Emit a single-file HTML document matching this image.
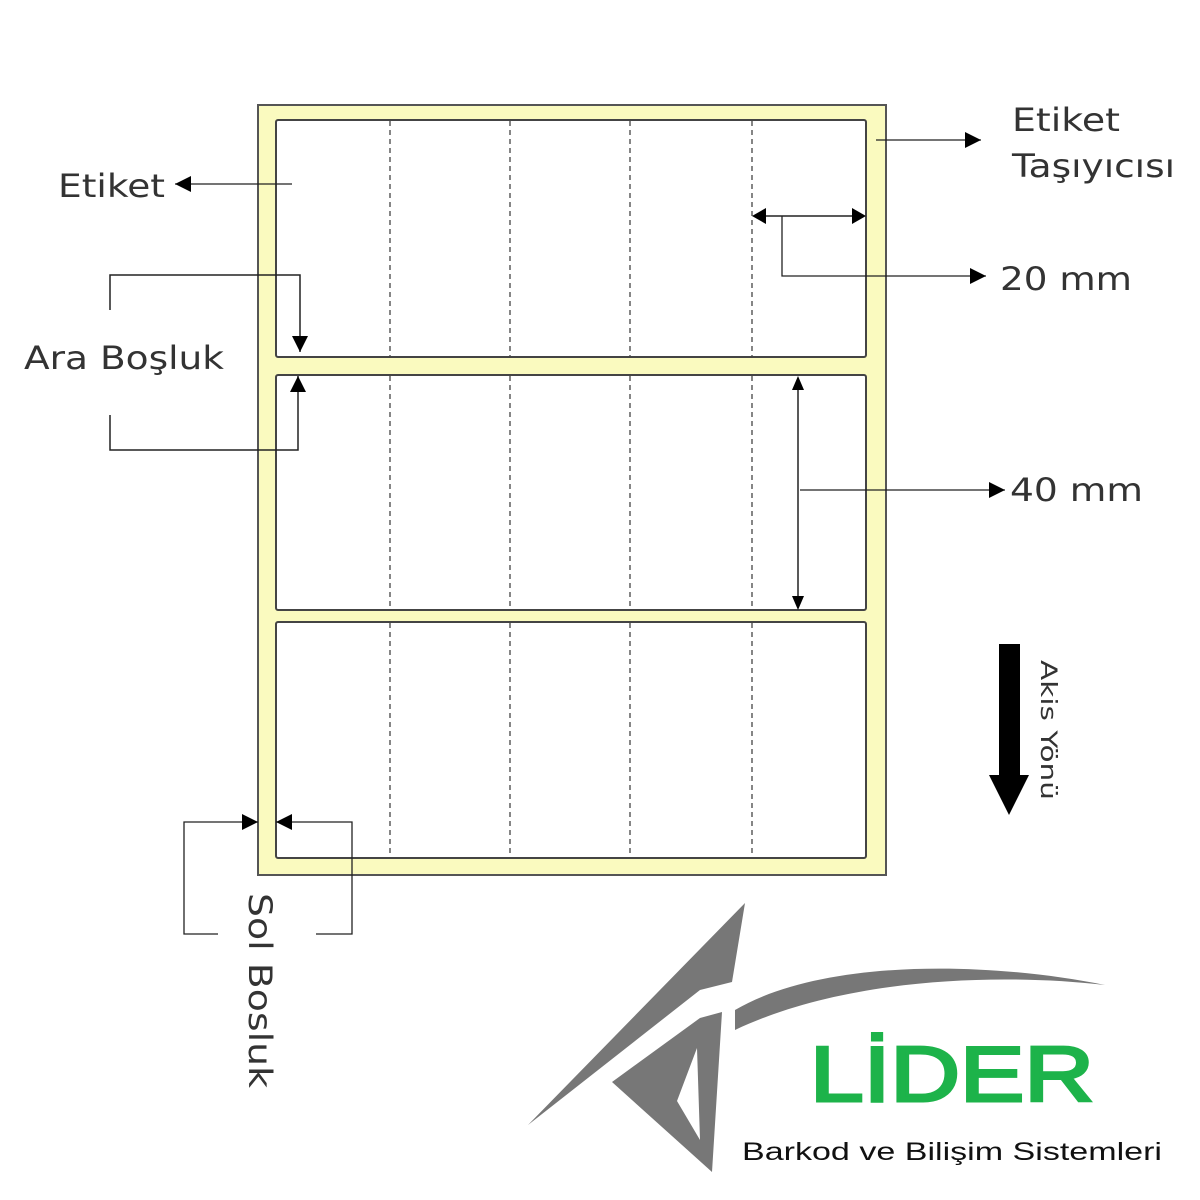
<!DOCTYPE html>
<html><head><meta charset="utf-8"><style>
html,body{margin:0;padding:0;background:#fff;}
svg{display:block;}
text{font-family:"DejaVu Sans","Liberation Sans",sans-serif;fill:#333;}
</style></head><body>
<svg width="1200" height="1200" viewBox="0 0 1200 1200" xmlns="http://www.w3.org/2000/svg">
<defs>
<marker id="ah" viewBox="0 0 10 10" refX="10" refY="5" markerWidth="22" markerHeight="16" markerUnits="userSpaceOnUse" orient="auto"><path d="M0,0L10,5L0,10z" fill="#000"/></marker>
</defs>
<rect x="258" y="105" width="628" height="770" fill="#fafabf" stroke="#555" stroke-width="2"/>
<g fill="#fff" stroke="#444" stroke-width="2">
<rect x="276" y="120" width="590" height="237" rx="2"/>
<rect x="276" y="375" width="590" height="235" rx="2"/>
<rect x="276" y="622" width="590" height="236" rx="2"/>
</g>
<g stroke="#444" stroke-width="1.3" stroke-dasharray="5,4">
<line x1="390" y1="121" x2="390" y2="356"/><line x1="510" y1="121" x2="510" y2="356"/><line x1="630" y1="121" x2="630" y2="356"/><line x1="752" y1="121" x2="752" y2="356"/>
<line x1="390" y1="376" x2="390" y2="609"/><line x1="510" y1="376" x2="510" y2="609"/><line x1="630" y1="376" x2="630" y2="609"/><line x1="752" y1="376" x2="752" y2="609"/>
<line x1="390" y1="623" x2="390" y2="857"/><line x1="510" y1="623" x2="510" y2="857"/><line x1="630" y1="623" x2="630" y2="857"/><line x1="752" y1="623" x2="752" y2="857"/>
</g>
<g stroke="#222" stroke-width="1.5" fill="none">
<line x1="292" y1="184" x2="175" y2="184" marker-end="url(#ah)" stroke-width="1.3"/>
<line x1="876" y1="140" x2="981" y2="140" marker-end="url(#ah)" stroke-width="1.3"/>
<line x1="765" y1="216" x2="853" y2="216"/>
<path d="M752,216 l14,-8 v16z M866,216 l-14,-8 v16z" fill="#000" stroke="none"/>
<polyline points="782,216 782,276 986,276" marker-end="url(#ah)" stroke-width="1.3"/>
<polyline points="110,310 110,275 300,275 300,352" marker-end="url(#ah)"/>
<polyline points="110,415 110,450 298,450 298,376" marker-end="url(#ah)"/>
<line x1="798" y1="390" x2="798" y2="596"/>
<path d="M798,376 l-6,14 h12z M798,610 l-6,-14 h12z" fill="#000" stroke="none"/>
<line x1="800" y1="490" x2="1005" y2="490" marker-end="url(#ah)" stroke-width="1.3"/>
<polyline points="218,934 184,934 184,822 258,822" marker-end="url(#ah)" stroke-width="1.3"/>
<polyline points="316,934 352,934 352,822 276,822" marker-end="url(#ah)" stroke-width="1.3"/>
</g>
<path d="M999,644 H1020 V775 H1029 L1009,815 L989,775 H999 Z" fill="#000"/>
<text x="58" y="197" font-size="32" textLength="107" lengthAdjust="spacingAndGlyphs">Etiket</text>
<text x="1012" y="131" font-size="32" textLength="108" lengthAdjust="spacingAndGlyphs">Etiket</text>
<text x="1012" y="177" font-size="32" textLength="163" lengthAdjust="spacingAndGlyphs">Taşıyıcısı</text>
<text x="1000" y="290" font-size="32" textLength="132" lengthAdjust="spacingAndGlyphs">20 mm</text>
<text x="1010" y="501" font-size="32" textLength="133" lengthAdjust="spacingAndGlyphs">40 mm</text>
<text x="24" y="369" font-size="32" textLength="200" lengthAdjust="spacingAndGlyphs">Ara Boşluk</text>
<text transform="translate(1041,660) rotate(90)" font-size="22" textLength="140" lengthAdjust="spacingAndGlyphs">Akis Yönü</text>
<text transform="translate(249,893) rotate(90)" font-size="32" textLength="195" lengthAdjust="spacingAndGlyphs">Sol Bosluk</text>
<g fill="#777">
<path d="M745,903 L528,1125 L700,990 L732,982 Z"/>
<path d="M700,1018 L612,1082 L712,1172 L722,1012 Z M697,1048 L700,1140 L677,1101 Z" fill-rule="evenodd"/>
<path d="M735,1010 C820,960 980,960 1105,985 C990,972 840,980 735,1030 Z"/>
</g>
<text x="810" y="1101" font-size="78" style="fill:#1db34a;stroke:#1db34a;stroke-width:3;font-family:'Liberation Sans',sans-serif" textLength="284" lengthAdjust="spacingAndGlyphs">LİDER</text>
<text x="742" y="1160" font-size="25" style="fill:#111;font-family:'Liberation Sans',sans-serif" textLength="420" lengthAdjust="spacingAndGlyphs">Barkod ve Bilişim Sistemleri</text>
</svg>
</body></html>
